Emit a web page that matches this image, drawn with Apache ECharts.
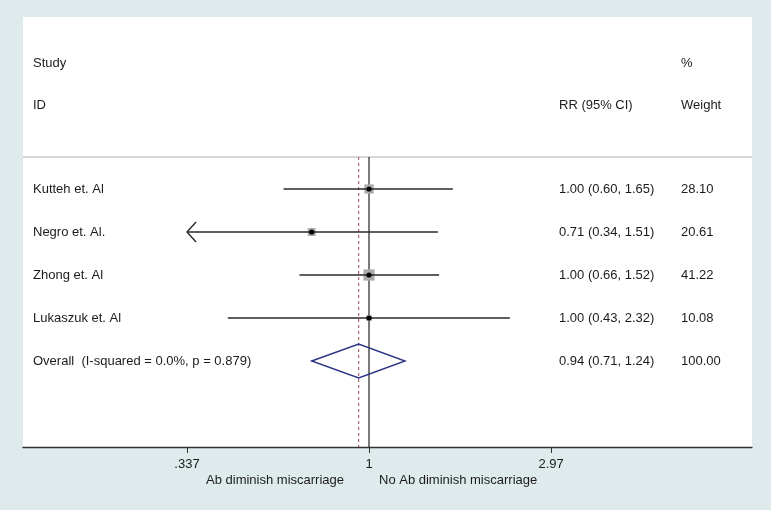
<!DOCTYPE html>
<html>
<head>
<meta charset="utf-8">
<script src="https://cdn.jsdelivr.net/npm/echarts@6/dist/echarts.min.js"></script>
<style>
  html, body { margin: 0; padding: 0; background: #dfeaed; }
  #main { width: 771px; height: 510px; }
</style>
</head>
<body>
<div id="main"></div>
<script>
// study rows
const studies = ['Kutteh et. Al', 'Negro et. Al.', 'Zhong et. Al', 'Lukaszuk et. Al'];
const rr = [1.00, 0.71, 1.00, 1.00];
const lower = [0.60, 0.336, 0.66, 0.43];
const upper = [1.65, 1.51, 1.52, 2.32];
const weights = [28.10, 20.61, 41.22, 10.08];

// pooled estimate
const overallLabel = 'Overall  (I-squared = 0.0%, p = 0.879)';
const overallRR = 0.94;
const overallLower = 0.71;
const overallUpper = 1.24;
const overallWeight = 100.00;

// x axis ticks (log scale)
const tickValues = [0.337, 1, 2.97];
const tickLabels = ['.337', '1', '2.97'];

const FONT = '"Liberation Sans", Arial, sans-serif';
const ln = Math.log;
const clipLow = ln(tickValues[0]);
const sepRow = -0.744;

const studyData = studies.map((s, i) => [i, ln(rr[i]), ln(lower[i]), ln(upper[i]), weights[i]]);

function ciText(e, l, u) {
  return e.toFixed(2) + ' (' + l.toFixed(2) + ', ' + u.toFixed(2) + ')';
}

function textEl(x, y, str, align) {
  return {
    type: 'text',
    x: x, y: y,
    style: { text: str, fill: '#1b1b1b', font: '13px ' + FONT, textAlign: align || 'left', textVerticalAlign: 'middle' }
  };
}

function renderStudy(params, api) {
  const i = api.value(0);
  const est = api.value(1), lo = api.value(2), hi = api.value(3), w = api.value(4);
  const cs = params.coordSys;
  const clipped = lo < clipLow;
  const pLo = api.coord([clipped ? clipLow : lo, i]);
  const pHi = api.coord([hi, i]);
  const pE = api.coord([est, i]);
  const side = 1.75 * Math.sqrt(w);
  const kids = [
    { type: 'rect', shape: { x: pE[0] - side / 2, y: pE[1] - side / 2, width: side, height: side },
      style: { fill: '#ababab' } },
    { type: 'line', shape: { x1: pLo[0], y1: pLo[1], x2: pHi[0], y2: pHi[1] },
      style: { stroke: '#2a2a2a', lineWidth: 1.4 } },
    { type: 'circle', shape: { cx: pE[0], cy: pE[1], r: 2.6 }, style: { fill: '#000' } },
    textEl(cs.x + 10, pE[1], studies[i]),
    textEl(cs.x + 536, pE[1], ciText(rr[i], lower[i], upper[i])),
    textEl(cs.x + 658, pE[1], weights[i].toFixed(2))
  ];
  if (clipped) {
    kids.push({ type: 'polyline', shape: { points: [[pLo[0] + 9, pLo[1] - 10], [pLo[0], pLo[1]], [pLo[0] + 9, pLo[1] + 10]] },
      style: { stroke: '#2a2a2a', lineWidth: 1.4, fill: null } });
  }
  return { type: 'group', children: kids };
}

function renderOverall(params, api) {
  const i = api.value(0);
  const cs = params.coordSys;
  const pE = api.coord([api.value(1), i]);
  const pLo = api.coord([api.value(2), i]);
  const pHi = api.coord([api.value(3), i]);
  const h = 17;
  return {
    type: 'group',
    children: [
      { type: 'polygon', shape: { points: [[pLo[0], pLo[1]], [pE[0], pE[1] - h], [pHi[0], pHi[1]], [pE[0], pE[1] + h]] },
        style: { stroke: '#2b3585', lineWidth: 1.4, fill: null } },
      textEl(cs.x + 10, pE[1], overallLabel),
      textEl(cs.x + 536, pE[1], ciText(overallRR, overallLower, overallUpper)),
      textEl(cs.x + 658, pE[1], overallWeight.toFixed(2))
    ]
  };
}

const chart = echarts.init(document.getElementById('main'));
chart.setOption({
  backgroundColor: '#dfeaed',
  animation: false,
  grid: { left: 23, right: 19, top: 17, bottom: 63, show: true, backgroundColor: '#ffffff', borderWidth: 0 },
  xAxis: {
    type: 'value',
    min: -2.068,
    max: 2.289,
    axisLine: { show: true, onZero: false, lineStyle: { color: '#333', width: 1.3 } },
    axisTick: { show: true, length: 6, customValues: tickValues.map(ln), lineStyle: { color: '#333' } },
    axisLabel: {
      customValues: tickValues.map(ln),
      margin: 11,
      color: '#1b1b1b',
      fontFamily: FONT,
      fontSize: 13,
      formatter: v => {
        let k = 0;
        tickValues.forEach((t, j) => { if (Math.abs(ln(t) - v) < Math.abs(ln(tickValues[k]) - v)) k = j; });
        return tickLabels[k];
      }
    },
    splitLine: { show: false }
  },
  yAxis: { type: 'value', min: -4, max: 6, inverse: true, show: false },
  graphic: [
    textEl(33, 63, 'Study'),
    textEl(681, 63, '%'),
    textEl(33, 105, 'ID'),
    textEl(559, 105, 'RR (95% CI)'),
    textEl(681, 105, 'Weight'),
    textEl(344, 480, 'Ab diminish miscarriage', 'right'),
    textEl(379, 480, 'No Ab diminish miscarriage', 'left')
  ],
  series: [
    {
      // header separator
      type: 'line', silent: true, symbol: 'none',
      data: [[-2.068, sepRow], [2.289, sepRow]],
      lineStyle: { color: '#c9c9c9', width: 1.5 }
    },
    {
      // line of no effect
      type: 'line', silent: true, symbol: 'none',
      data: [[0, sepRow], [0, 6]],
      lineStyle: { color: '#222', width: 1.2 }
    },
    {
      // pooled estimate
      type: 'line', silent: true, symbol: 'none',
      data: [[ln(overallRR), sepRow], [ln(overallRR), 6]],
      lineStyle: { color: '#a8586a', width: 1.1, type: [3, 3] }
    },
    { type: 'custom', renderItem: renderStudy, data: studyData, z: 5 },
    { type: 'custom', renderItem: renderOverall, data: [[4, ln(overallRR), ln(overallLower), ln(overallUpper)]], z: 5 }
  ]
});
</script>
</body>
</html>
